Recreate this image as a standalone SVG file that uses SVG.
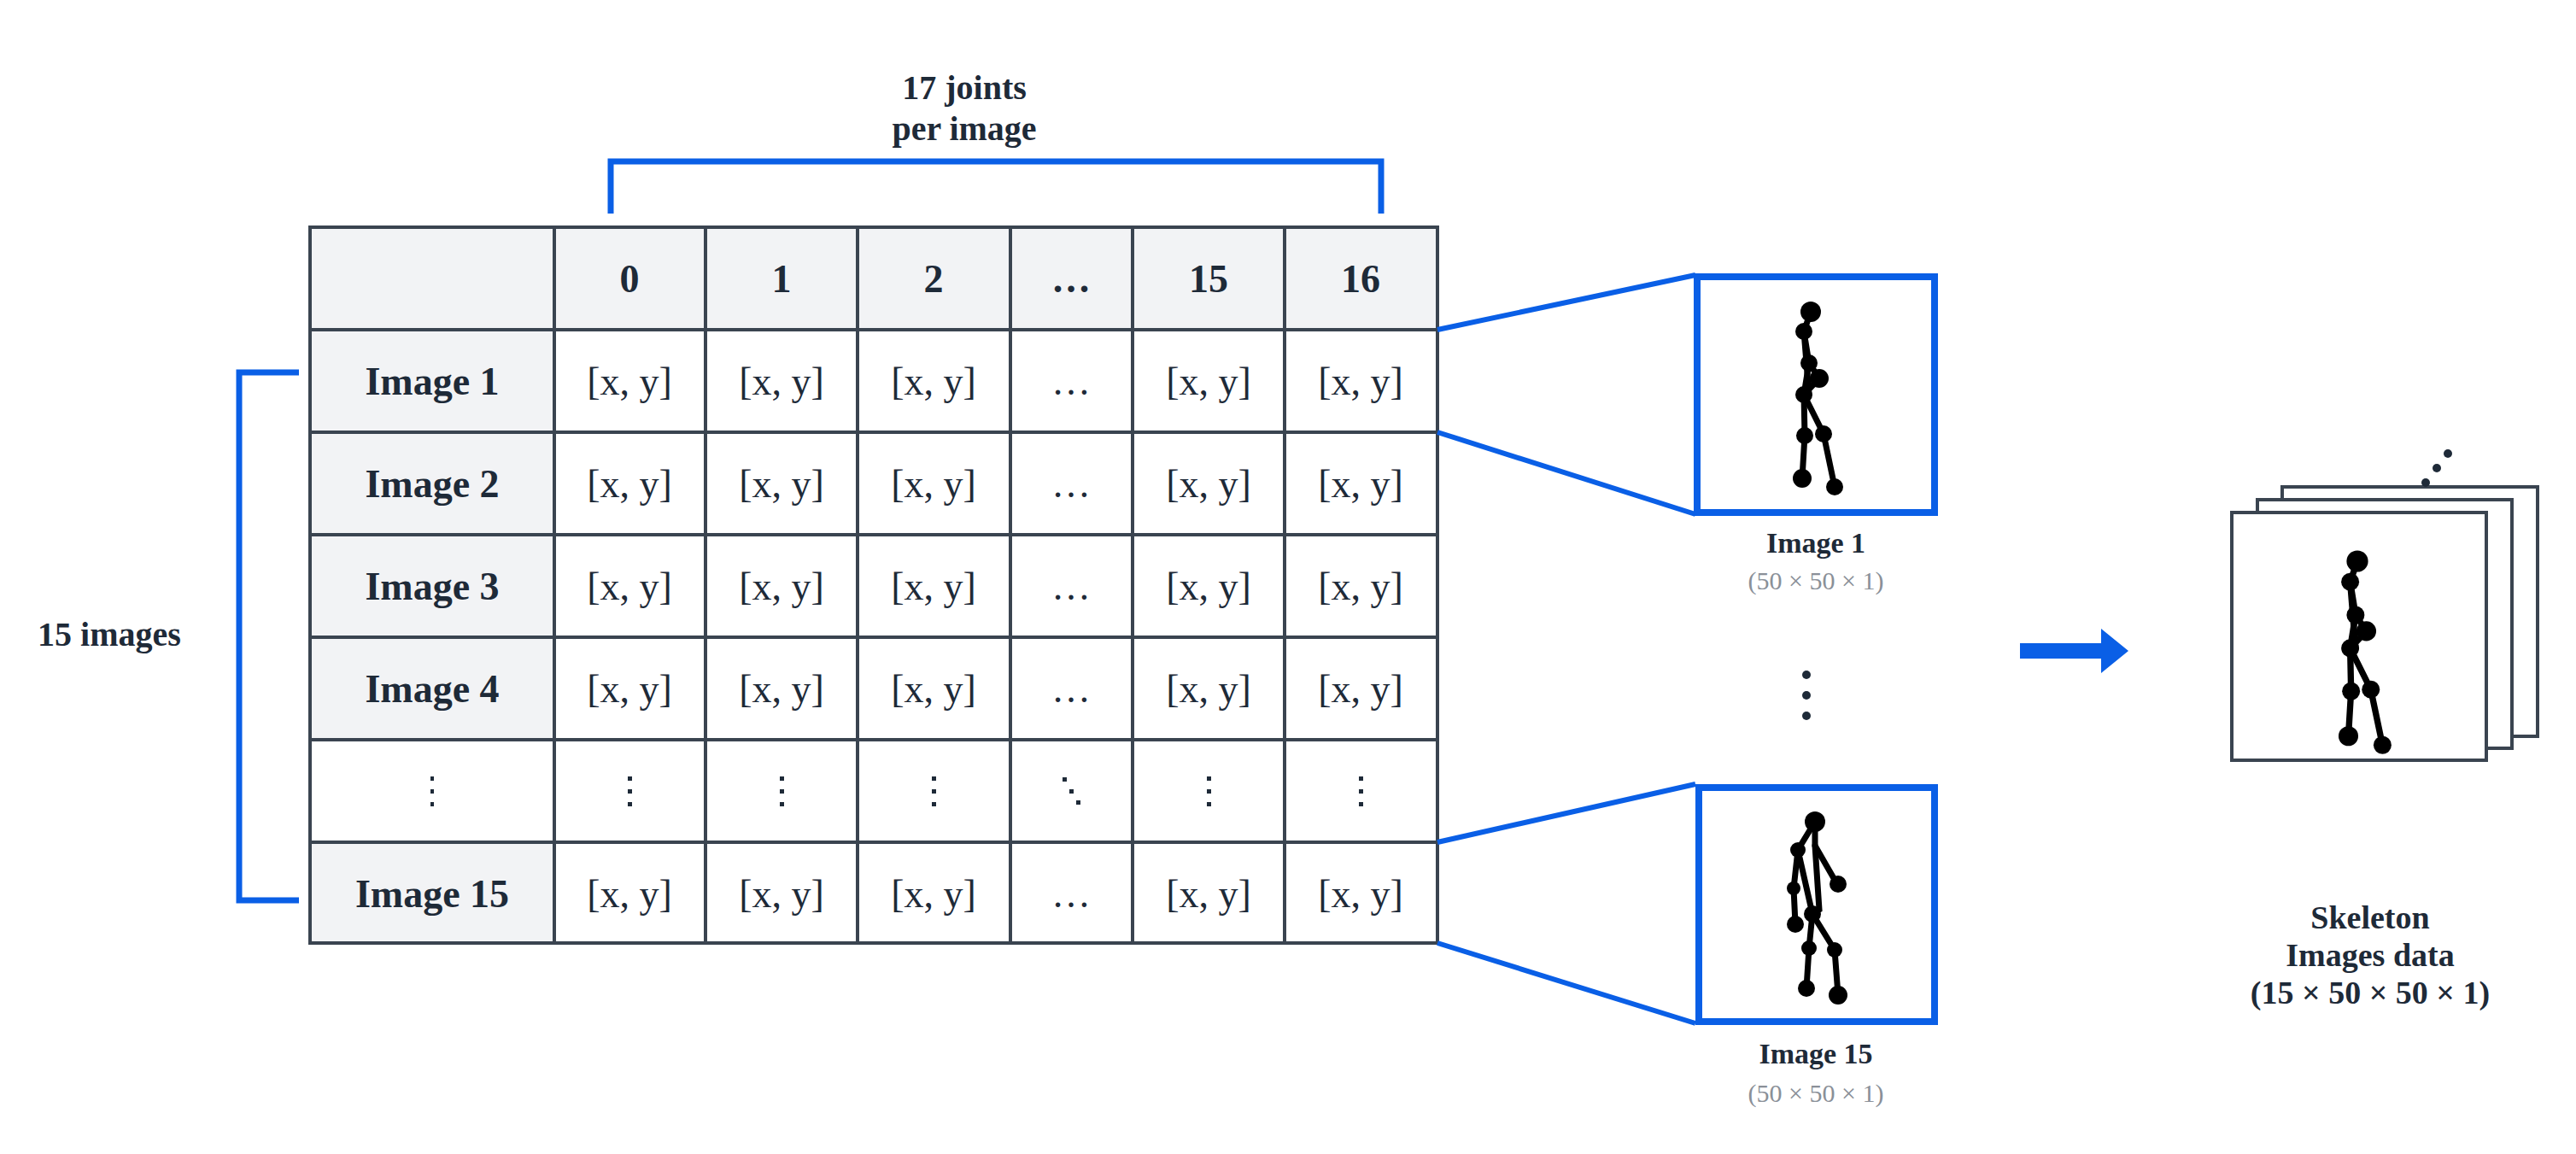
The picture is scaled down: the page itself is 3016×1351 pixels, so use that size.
<svg xmlns="http://www.w3.org/2000/svg" width="3016" height="1351" viewBox="0 0 3016 1351">
<style>
.t{font-family:"Liberation Serif","DejaVu Serif",serif;fill:#1e2a38;text-anchor:middle}
.b{font-weight:bold}
.c{font-size:46px}
.h{font-size:46px;font-weight:bold}
.s{font-size:30px;fill:#8a9098}
.blue{stroke:#0a5fe6;fill:none}
.grid{stroke:#3a4450;stroke-width:4;fill:none}
.sk line,.sk polyline{stroke:#000;stroke-width:7;stroke-linecap:round;fill:none}
.sk circle{fill:#000}
.dot{fill:#1e2a38}
</style>
<defs>
<g id="skel1" class="sk">
<polyline points="2120,365 2112,388 2118,425 2112,462 2113,510 2110,560"/>
<polyline points="2118,425 2130,443 2112,462 2135,508 2148,570"/>
<line x1="2112" y1="388" x2="2118" y2="462"/>
<circle cx="2120" cy="365" r="12"/><circle cx="2112" cy="388" r="10"/><circle cx="2118" cy="425" r="10"/>
<circle cx="2130" cy="443" r="11"/><circle cx="2112" cy="462" r="10"/><circle cx="2113" cy="510" r="10"/>
<circle cx="2135" cy="508" r="10"/><circle cx="2110" cy="560" r="11"/><circle cx="2148" cy="570" r="10"/>
</g>
</defs>
<rect width="3016" height="1351" fill="#fff"/>

<g id="labels">
<text class="t b" x="1129" y="116" font-size="40">17 joints</text>
<text class="t b" x="1129" y="164" font-size="40">per image</text>
<text class="t b" x="128" y="756" font-size="40">15 images</text>
</g>

<g id="brackets" stroke-width="7">
<polyline class="blue" points="715,250 715,189 1617,189 1617,250"/>
<polyline class="blue" points="350,436 280,436 280,1054 350,1054"/>
</g>

<g id="table">
<rect x="363" y="266" width="1320" height="120" fill="#f2f3f5"/>
<rect x="363" y="266" width="286" height="600" fill="#f2f3f5"/>
<rect x="363" y="986" width="286" height="118" fill="#f2f3f5"/>
<rect x="363" y="266" width="1320" height="838" class="grid"/>
<g class="grid">
<line x1="649" y1="266" x2="649" y2="1104"/><line x1="826" y1="266" x2="826" y2="1104"/>
<line x1="1004" y1="266" x2="1004" y2="1104"/><line x1="1183" y1="266" x2="1183" y2="1104"/>
<line x1="1326" y1="266" x2="1326" y2="1104"/><line x1="1504" y1="266" x2="1504" y2="1104"/>
<line x1="363" y1="386" x2="1683" y2="386"/><line x1="363" y1="506" x2="1683" y2="506"/>
<line x1="363" y1="626" x2="1683" y2="626"/><line x1="363" y1="746" x2="1683" y2="746"/>
<line x1="363" y1="866" x2="1683" y2="866"/><line x1="363" y1="986" x2="1683" y2="986"/>
</g>
<g class="t h">
<text x="737" y="342">0</text><text x="915" y="342">1</text><text x="1093" y="342">2</text>
<text x="1254" y="342">…</text><text x="1415" y="342">15</text><text x="1593" y="342">16</text>
<text x="506" y="462">Image 1</text><text x="506" y="582">Image 2</text><text x="506" y="702">Image 3</text>
<text x="506" y="822">Image 4</text><text x="506" y="1062">Image 15</text>
</g>
<g class="t c">
<text x="737" y="462">[x, y]</text><text x="915" y="462">[x, y]</text><text x="1093" y="462">[x, y]</text><text x="1254" y="462">…</text><text x="1415" y="462">[x, y]</text><text x="1593" y="462">[x, y]</text>
<text x="737" y="582">[x, y]</text><text x="915" y="582">[x, y]</text><text x="1093" y="582">[x, y]</text><text x="1254" y="582">…</text><text x="1415" y="582">[x, y]</text><text x="1593" y="582">[x, y]</text>
<text x="737" y="702">[x, y]</text><text x="915" y="702">[x, y]</text><text x="1093" y="702">[x, y]</text><text x="1254" y="702">…</text><text x="1415" y="702">[x, y]</text><text x="1593" y="702">[x, y]</text>
<text x="737" y="822">[x, y]</text><text x="915" y="822">[x, y]</text><text x="1093" y="822">[x, y]</text><text x="1254" y="822">…</text><text x="1415" y="822">[x, y]</text><text x="1593" y="822">[x, y]</text>
<text x="737" y="1062">[x, y]</text><text x="915" y="1062">[x, y]</text><text x="1093" y="1062">[x, y]</text><text x="1254" y="1062">…</text><text x="1415" y="1062">[x, y]</text><text x="1593" y="1062">[x, y]</text>
</g>
<g class="dot">
<rect x="504" y="909" width="4" height="5"/><rect x="504" y="924" width="4" height="5"/><rect x="504" y="939" width="4" height="5"/>
<rect x="735" y="909" width="5" height="5"/><rect x="735" y="924" width="5" height="5"/><rect x="735" y="939" width="5" height="5"/>
<rect x="913" y="909" width="5" height="5"/><rect x="913" y="924" width="5" height="5"/><rect x="913" y="939" width="5" height="5"/>
<rect x="1091" y="909" width="5" height="5"/><rect x="1091" y="924" width="5" height="5"/><rect x="1091" y="939" width="5" height="5"/>
<rect x="1244" y="910" width="5" height="5"/><rect x="1252" y="924" width="5" height="5"/><rect x="1260" y="937" width="5" height="5"/>
<rect x="1413" y="909" width="5" height="5"/><rect x="1413" y="924" width="5" height="5"/><rect x="1413" y="939" width="5" height="5"/>
<rect x="1591" y="909" width="5" height="5"/><rect x="1591" y="924" width="5" height="5"/><rect x="1591" y="939" width="5" height="5"/>
</g>
</g>

<g id="connectors" stroke-width="6">
<line class="blue" x1="1683" y1="386" x2="1985" y2="322"/>
<line class="blue" x1="1683" y1="506" x2="1985" y2="602"/>
<line class="blue" x1="1683" y1="986" x2="1985" y2="918"/>
<line class="blue" x1="1683" y1="1104" x2="1985" y2="1198"/>
<path d="M2365,753 H2460 V736 L2492,762 L2460,788 V771 H2365 Z" fill="#0a5fe6"/>
</g>

<g id="image1">
<rect x="1987" y="324" width="278" height="276" class="blue" stroke-width="8"/>
<use href="#skel1"/>
<text class="t b" x="2126" y="647" font-size="34">Image 1</text>
<text class="t s" x="2126" y="690">(50 × 50 × 1)</text>
</g>

<g id="vdots" class="dot">
<circle cx="2115" cy="790" r="5"/><circle cx="2115" cy="814" r="5"/><circle cx="2115" cy="838" r="5"/>
</g>

<g id="image15">
<rect x="1989" y="922" width="276" height="274" class="blue" stroke-width="8"/>
<g class="sk">
<polyline points="2125,962 2105,995 2100,1040 2102,1082"/>
<polyline points="2125,962 2125,990 2148,1030 2152,1037"/>
<polyline points="2105,995 2122,1070 2118,1110 2115,1157"/>
<polyline points="2125,990 2130,1065 2122,1070 2148,1112 2152,1165"/>
<circle cx="2125" cy="962" r="12"/><circle cx="2105" cy="995" r="9"/><circle cx="2100" cy="1040" r="8"/>
<circle cx="2102" cy="1082" r="10"/><circle cx="2152" cy="1035" r="10"/><circle cx="2122" cy="1070" r="10"/>
<circle cx="2118" cy="1110" r="9"/><circle cx="2148" cy="1112" r="9"/><circle cx="2115" cy="1157" r="10"/><circle cx="2152" cy="1165" r="11"/>
</g>
<text class="t b" x="2126" y="1245" font-size="34">Image 15</text>
<text class="t s" x="2126" y="1290">(50 × 50 × 1)</text>
</g>

<g id="stack">
<rect x="2672" y="570" width="299" height="292" fill="#fff" stroke="#3a4450" stroke-width="4"/>
<rect x="2643" y="585" width="298" height="291" fill="#fff" stroke="#3a4450" stroke-width="4"/>
<rect x="2613" y="600" width="298" height="290" fill="#fff" stroke="#3a4450" stroke-width="4"/>
<use href="#skel1" transform="translate(2760,657) scale(1.05) translate(-2120,-365)"/>
<g class="dot"><circle cx="2840" cy="565" r="5"/><circle cx="2853" cy="548" r="5"/><circle cx="2866" cy="531" r="5"/></g>
<text class="t b" x="2775" y="1087" font-size="38">Skeleton</text>
<text class="t b" x="2775" y="1131" font-size="38">Images data</text>
<text class="t b" x="2775" y="1175" font-size="38">(15 × 50 × 50 × 1)</text>
</g>
</svg>
